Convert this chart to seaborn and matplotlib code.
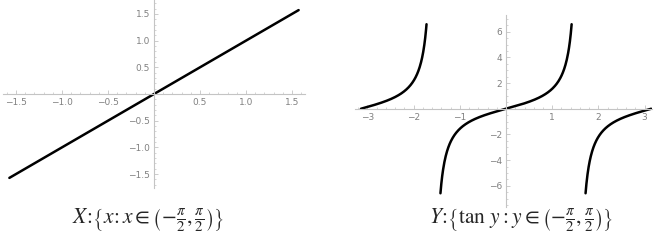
import numpy as np
import pandas as pd
import matplotlib
matplotlib.use("Agg")
import matplotlib.pyplot as plt
import seaborn as sns
from matplotlib.ticker import MultipleLocator, FuncFormatter

# ---- data ----
line_x = [-1.5708, 1.5708]          # y = x segment endpoints
line_y = [-1.5708, 1.5708]
# tan branches: (start, end) of x (curve clipped near |tan| = 6.6)
branch_starts = [-3.1416, -1.4200, 1.7216]
branch_ends = [-1.7216, 1.4200, 3.1416]
left_caption = r"$X\!:\!\left\{x\!:x\in\left(-\frac{\pi}{2},\frac{\pi}{2}\right)\right\}$"
right_caption = r"$Y\!:\!\left\{\tan\,y : y\in\left(-\frac{\pi}{2},\frac{\pi}{2}\right)\right\}$"

sns.set_style("white")
plt.rcParams["font.family"] = ["DejaVu Sans"]
plt.rcParams["mathtext.fontset"] = "stix"

frames = []
for i, (a, b) in enumerate(zip(branch_starts, branch_ends)):
    xs = np.linspace(a, b, 300)
    frames.append(pd.DataFrame({"x": xs, "y": np.tan(xs), "branch": i}))
tan_df = pd.concat(frames, ignore_index=True)
lin_df = pd.DataFrame({"x": line_x, "y": line_y})

fig = plt.figure(figsize=(6.6, 2.43), dpi=100)
W, H = 660, 243
def place(l, t, r, b):
    return fig.add_axes([l / W, (H - b) / H, (r - l) / W, (b - t) / H])

ax1 = place(3, 0, 305, 188)
ax2 = place(355, 15, 652, 207)

sns.lineplot(data=lin_df, x="x", y="y", ax=ax1, color="black", lw=1.8)
sns.lineplot(data=tan_df, x="x", y="y", units="branch", estimator=None,
             ax=ax2, color="black", lw=1.8)

ax1.set_xlim(-1.64, 1.64)
ax1.set_ylim(-1.76, 1.76)
ax2.set_xlim(-3.27, 3.16)
ax2.set_ylim(-7.65, 7.3)

fmt = FuncFormatter(lambda v, p: "" if abs(v) < 1e-9 else (f"{v:.1f}".replace("-", "\u2212")))
fmt_int = FuncFormatter(lambda v, p: "" if abs(v) < 1e-9 else (f"{v:.0f}".replace("-", "\u2212")))

for ax, (mx, nx, my, ny, f) in zip(
        [ax1, ax2],
        [(0.5, 0.1, 0.5, 0.1, fmt), (1, 0.2, 2, 0.5, fmt_int)]):
    ax.set_xlabel("")
    ax.set_ylabel("")
    ax.patch.set_alpha(0)
    for s in ["top", "right"]:
        ax.spines[s].set_visible(False)
    for s in ["left", "bottom"]:
        ax.spines[s].set_position("zero")
        ax.spines[s].set_color("#c4c4c4")
        ax.spines[s].set_linewidth(0.8)
    ax.xaxis.set_major_locator(MultipleLocator(mx))
    ax.xaxis.set_minor_locator(MultipleLocator(nx))
    ax.yaxis.set_major_locator(MultipleLocator(my))
    ax.yaxis.set_minor_locator(MultipleLocator(ny))
    ax.xaxis.set_major_formatter(f)
    ax.yaxis.set_major_formatter(f)
    ax.tick_params(which="both", bottom=True, left=True, top=False, right=False,
                   direction="in", colors="#c4c4c4",
                   labelcolor="#808080", labelsize=6.5, pad=3)
    ax.tick_params(which="major", length=3, width=0.6)
    ax.tick_params(which="minor", length=1.6, width=0.5)

fig.text(148 / W, 1 - 220 / H, left_caption, ha="center", va="center", fontsize=15.5)
fig.text(521 / W, 1 - 220 / H, right_caption, ha="center", va="center", fontsize=15.5)

fig.savefig("out.png", dpi=100)
